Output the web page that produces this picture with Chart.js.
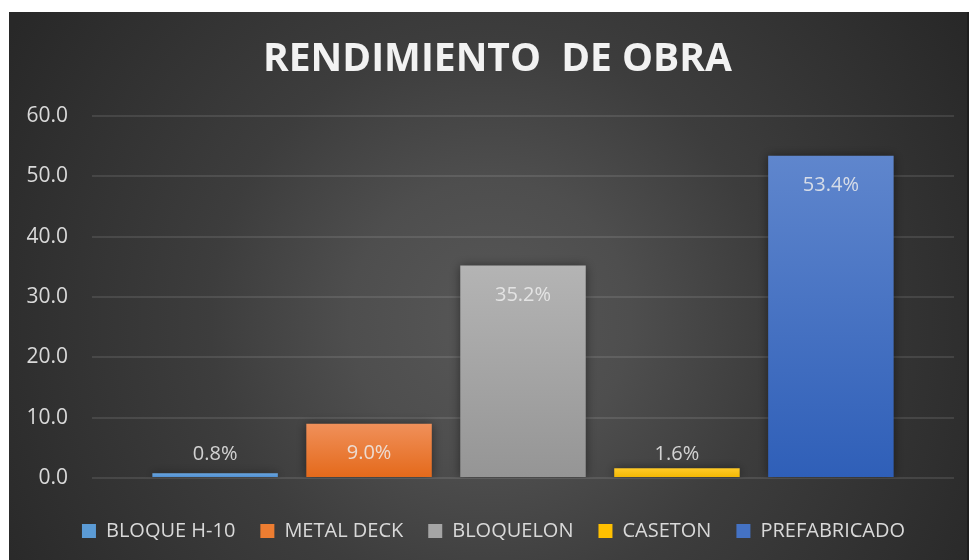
<!DOCTYPE html>
<html>
<head>
<meta charset="utf-8">
<script src="https://cdn.jsdelivr.net/npm/chart.js@4.4.0/dist/chart.umd.min.js"></script>
<style>
html,body{margin:0;padding:0;background:#ffffff;}
#wrap{width:969px;height:560px;position:relative;}
</style>
</head>
<body>
<div id="wrap"><canvas id="c" width="969" height="560"></canvas></div>
<script>
// ---- data ----
const seriesNames = ['BLOQUE H-10', 'METAL DECK', 'BLOQUELON', 'CASETON', 'PREFABRICADO'];
const seriesValues = [0.8, 9.0, 35.2, 1.6, 53.4];
const valueLabels = ['0.8%', '9.0%', '35.2%', '1.6%', '53.4%'];
const categories = [''];
const yTicks = [0, 10, 20, 30, 40, 50, 60];
const chartTitle = 'RENDIMIENTO  DE OBRA';

// ---- styles ----
const gradTop = ['#6aa6df', '#f0905a', '#b4b4b4', '#ffca28', '#5f86cd'];
const gradBottom = ['#4b8bd0', '#e4691a', '#959595', '#f2b600', '#2f5fb8'];
const solid = ['#5b9bd5', '#ed7d31', '#a5a5a5', '#ffc000', '#4472c4'];
const FONT = "'Open Sans', 'Noto Sans', sans-serif";

function barGradient(i) {
  return function(ctx) {
    const chart = ctx.chart;
    if (!chart.chartArea || !chart.scales.y) return solid[i];
    const y0 = chart.scales.y.getPixelForValue(seriesValues[i]);
    const y1 = chart.scales.y.getPixelForValue(0);
    if (!isFinite(y0) || !isFinite(y1) || y0 === y1) return solid[i];
    const g = chart.ctx.createLinearGradient(0, y0, 0, y1);
    g.addColorStop(0, gradTop[i]);
    g.addColorStop(1, gradBottom[i]);
    return g;
  };
}

const datasets = seriesNames.map((name, i) => ({
  label: name,
  data: [seriesValues[i]],
  backgroundColor: barGradient(i),
  borderWidth: 0,
  categoryPercentage: 0.893,
  barPercentage: 0.815
}));

const bgPlugin = {
  id: 'bg',
  beforeDraw(chart) {
    const c = chart.ctx;
    c.save();
    c.fillStyle = '#ffffff';
    c.fillRect(0, 0, chart.width, chart.height);
    const g = c.createRadialGradient(490, 320, 0, 490, 320, 560);
    g.addColorStop(0, '#575757');
    g.addColorStop(0.25, '#4e4e4e');
    g.addColorStop(0.5, '#3d3d3d');
    g.addColorStop(1, '#282828');
    c.fillStyle = g;
    c.fillRect(9, 12, chart.width - 9, chart.height - 12);
    c.fillStyle = '#1e1e1e';
    c.fillRect(chart.width - 2, 12, 2, chart.height - 12);
    c.restore();
  }
};

const shadowPlugin = {
  id: 'barShadow',
  beforeDatasetsDraw(chart) {
    const c = chart.ctx;
    c.save();
    c.shadowColor = 'rgba(0,0,0,0.45)';
    c.shadowBlur = 10;
    c.shadowOffsetX = 0;
    c.shadowOffsetY = 0;
  },
  afterDatasetsDraw(chart) {
    chart.ctx.restore();
  }
};

const labelPlugin = {
  id: 'valueLabels',
  afterDatasetsDraw(chart) {
    const c = chart.ctx;
    c.save();
    c.font = '20px ' + FONT;
    c.fillStyle = 'rgba(236,236,236,0.85)';
    c.textAlign = 'center';
    c.textBaseline = 'middle';
    chart.data.datasets.forEach((ds, i) => {
      const meta = chart.getDatasetMeta(i);
      const bar = meta.data[0];
      if (!bar) return;
      const y = Math.min(bar.y + 30, bar.base - 23);
      c.fillText(valueLabels[i], bar.x, y);
    });
    c.restore();
  }
};

const boxShift = {
  id: 'boxShift',
  afterLayout(chart) {
    const lg = chart.legend;
    if (lg) {
      lg.top += 18; lg.bottom += 18;
      lg.left += 12; lg.right += 12;
    }
    const tb = chart.titleBlock;
    if (tb) { tb.left += 16; tb.right += 16; }
  }
};

new Chart(document.getElementById('c'), {
  type: 'bar',
  data: { labels: categories, datasets: datasets },
  options: {
    responsive: false,
    animation: false,
    devicePixelRatio: 1,
    layout: { padding: { top: 12, left: 9, right: 15, bottom: 27 } },
    plugins: {
      title: {
        display: true,
        text: chartTitle,
        color: '#f2f2f2',
        font: { family: FONT, size: 39, weight: 'bold', lineHeight: 1.2 },
        padding: { top: 24, bottom: 33 }
      },
      legend: {
        display: true,
        position: 'bottom',
        labels: {
          color: '#d9d9d9',
          font: { family: FONT, size: 20 },
          boxWidth: 14,
          boxHeight: 14,
          padding: 25,
          generateLabels(chart) {
            return seriesNames.map((n, i) => ({
              text: n,
              fillStyle: solid[i],
              strokeStyle: solid[i],
              lineWidth: 0,
              hidden: false,
              datasetIndex: i,
              fontColor: '#d9d9d9'
            }));
          }
        }
      },
      tooltip: { enabled: false }
    },
    scales: {
      x: { display: false },
      y: {
        min: yTicks[0],
        max: yTicks[yTicks.length - 1],
        afterFit(scale) { scale.width = 83; },
        border: { display: false },
        grid: { color: 'rgba(255,255,255,0.1)', lineWidth: 2, drawTicks: false },
        ticks: {
          stepSize: yTicks[1] - yTicks[0],
          color: '#d9d9d9',
          font: { family: FONT, size: 21 },
          padding: 24,
          callback: v => Number(v).toFixed(1)
        }
      }
    }
  },
  plugins: [bgPlugin, shadowPlugin, labelPlugin, boxShift]
});
</script>
</body>
</html>
